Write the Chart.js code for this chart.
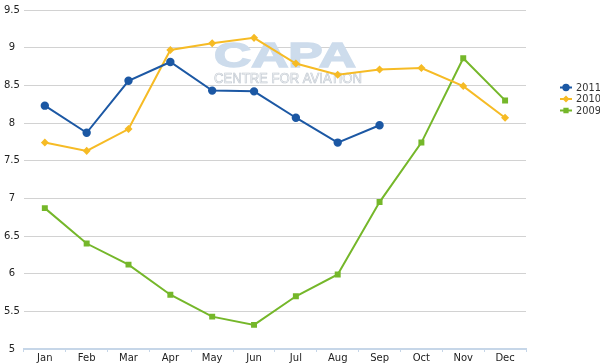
<!DOCTYPE html>
<html>
<head>
<meta charset="utf-8">
<script src="https://cdn.jsdelivr.net/npm/chart.js@4"></script>
<style>
  html, body { margin: 0; padding: 0; background: #fff; }
  #wrap { width: 600px; height: 364px; position: relative; }
</style>
</head>
<body>
<div id="wrap"><canvas id="myChart"></canvas></div>
<script>
const months = ['Jan', 'Feb', 'Mar', 'Apr', 'May', 'Jun', 'Jul', 'Aug', 'Sep', 'Oct', 'Nov', 'Dec']
const y2011 = [8.23, 7.87, 8.56, 8.81, 8.43, 8.42, 8.07, 7.74, 7.97, null, null, null]
const y2010 = [7.74, 7.63, 7.92, 8.97, 9.06, 9.13, 8.79, 8.64, 8.71, 8.73, 8.49, 8.07]
const y2009 = [6.87, 6.40, 6.12, 5.72, 5.43, 5.32, 5.70, 5.99, 6.95, 7.74, 8.86, 8.30]

const blue = '#1c58a4'
const yellow = '#f6bb25'
const green = '#75b72a'
const font = 'DejaVu Sans'

// watermark + legend drawn by hand
const extras = {
    id: 'extras',
    beforeDatasetsDraw(chart) {
        const ctx = chart.ctx
        ctx.save()
        ctx.textAlign = 'left'
        ctx.textBaseline = 'alphabetic'
        ctx.fillStyle = '#cddcec'
        ctx.strokeStyle = '#cddcec'
        ctx.lineWidth = 1.5
        ctx.font = 'bold 35px "Liberation Sans"'
        let w = ctx.measureText('CAPA').width
        ctx.translate(214, 67)
        ctx.scale(142 / w, 1)
        ctx.fillText('CAPA', 0, 0)
        ctx.strokeText('CAPA', 0, 0)
        ctx.restore()

        ctx.save()
        ctx.strokeStyle = '#c4cbd3'
        ctx.lineWidth = 0.7
        ctx.font = '14px "Liberation Sans"'
        w = ctx.measureText('CENTRE FOR AVIATION').width
        ctx.translate(214, 83)
        ctx.scale(148 / w, 1)
        ctx.strokeText('CENTRE FOR AVIATION', 0, 0)
        ctx.restore()
    },
    afterDraw(chart) {
        const ctx = chart.ctx
        const x = chart.chartArea.right + 34
        let y = 87.5
        ctx.save()
        chart.data.datasets.forEach(ds => {
            ctx.strokeStyle = ds.borderColor
            ctx.fillStyle = ds.borderColor
            ctx.lineWidth = 2
            ctx.beginPath()
            ctx.moveTo(x, y)
            ctx.lineTo(x + 12, y)
            ctx.stroke()
            Chart.helpers.drawPoint(ctx, {pointStyle: ds.pointStyle, radius: ds.pointRadius - 0.5, borderWidth: 1}, x + 6, y)
            ctx.fillStyle = '#333'
            ctx.font = '9.8px "' + font + '"'
            ctx.textBaseline = 'middle'
            ctx.textAlign = 'left'
            ctx.fillText(ds.label, x + 16, y + 0.5)
            y += 11.5
        })
        ctx.restore()
    }
}

let myChart = document.getElementById('myChart').getContext('2d')
let chart = new Chart(myChart, {
    type: 'line',
    data: {
        labels: months,
        datasets: [{
            label: '2011',
            data: y2011,
            borderColor: blue,
            backgroundColor: blue,
            pointStyle: 'circle',
            pointRadius: 3.2,
            borderWidth: 2
        }, {
            label: '2010',
            data: y2010,
            borderColor: yellow,
            backgroundColor: yellow,
            pointStyle: 'rectRot',
            pointRadius: 2.6,
            borderWidth: 2
        }, {
            label: '2009',
            data: y2009,
            borderColor: green,
            backgroundColor: green,
            pointStyle: 'rect',
            pointRadius: 2.8,
            borderWidth: 2
        }]
    },
    options: {
        responsive: true,
        maintainAspectRatio: false,
        animation: false,
        layout: { padding: { left: 0, right: 74, top: 0, bottom: 0 } },
        plugins: {
            legend: { display: false },
            tooltip: { enabled: false }
        },
        scales: {
            x: {
                offset: true,
                grid: {
                    offset: true,
                    drawOnChartArea: false,
                    drawTicks: true,
                    tickLength: 3,
                    color: '#c6d6e8'
                },
                border: { color: '#c6d6e8', width: 2 },
                ticks: {
                    color: '#222',
                    font: { family: font, size: 10 },
                    padding: 0,
                    maxRotation: 0
                }
            },
            y: {
                min: 5,
                max: 9.5,
                ticks: {
                    stepSize: 0.5,
                    color: '#222',
                    font: { family: font, size: 10 },
                    padding: 4,
                    crossAlign: 'center',
                    callback: v => String(v)
                },
                grid: { color: '#d2d2d2', drawTicks: false },
                border: { display: false }
            }
        }
    },
    plugins: [extras]
})
</script>
</body>
</html>
